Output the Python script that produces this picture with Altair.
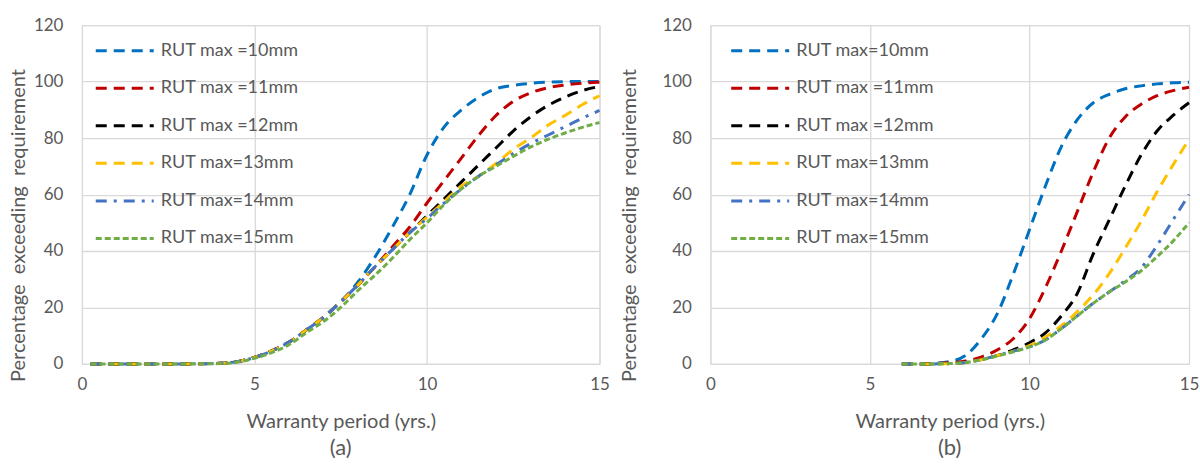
import altair as alt
import pandas as pd

# ---------------- data ----------------
series_a = ["RUT max =10mm", "RUT max =11mm", "RUT max =12mm",
            "RUT max=13mm", "RUT max=14mm", "RUT max=15mm"]
series_b = ["RUT max=10mm", "RUT max =11mm", "RUT max =12mm",
            "RUT max=13mm", "RUT max=14mm", "RUT max=15mm"]

years_a = [0.25, 1, 2, 3, 4, 4.5, 5, 5.5, 6, 6.5, 7, 7.5, 8, 8.5, 9, 9.5, 10,
           10.5, 11, 11.5, 12, 12.5, 13, 13.5, 14, 14.5, 15]
a_10 = [0, 0, 0, 0, 0.2, 0.8, 2.3, 4.6, 7.7, 12, 16.5, 22, 29, 38, 48.5, 60, 74,
        84, 90, 94.5, 97.5, 98.7, 99.4, 99.8, 100, 100, 100]
a_11 = [0, 0, 0, 0, 0.2, 0.8, 2.3, 4.6, 7.7, 12, 16.5, 22, 28, 34.5, 41.5, 48.5, 57,
        65, 73, 81, 88, 93, 96, 97.8, 98.8, 99.4, 99.8]
a_12 = [0, 0, 0, 0, 0.2, 0.8, 2.3, 4.6, 7.7, 12, 16.5, 22, 28, 34.5, 40.5, 46.5, 52.5,
        58.5, 64.5, 70.5, 76.5, 82.5, 87.5, 91.5, 94.5, 96.8, 98.3]
a_13 = [0, 0, 0, 0, 0.2, 0.8, 2.3, 4.6, 7.7, 12, 16.5, 22, 28, 34.5, 40.5, 46.5, 52,
        57.5, 63, 66.5, 71, 76, 80, 84.5, 88, 91.8, 95]
a_14 = [0, 0, 0, 0, 0.2, 0.8, 2.3, 4.6, 7.7, 12, 16.5, 22, 28, 34.5, 40.5, 46.5, 51.5,
        57, 62, 66.5, 70.5, 74.5, 78, 81, 84, 87, 89.8]
a_15 = [0, 0, 0, 0, 0.1, 0.6, 2, 4, 6.8, 11, 15, 20, 26, 31.5, 37.5, 44, 50,
        56.5, 62, 66.5, 70, 73.5, 76.8, 79.5, 81.8, 83.8, 85.5]

years_b = [6, 6.5, 7, 7.5, 8, 8.5, 9, 9.5, 10, 10.5, 11, 11.5, 12, 12.5, 13, 13.5,
           14, 14.5, 15]
b_10 = [0, 0, 0.2, 0.8, 3, 9, 18, 32, 47.5, 63, 77, 86.5, 92.5, 95.5, 97.5, 98.5,
        99.2, 99.6, 99.8]
b_11 = [0, 0, 0.1, 0.4, 1, 2.5, 5, 9, 16, 27, 40, 54, 68, 80, 87.5, 92, 95, 96.8, 98]
b_12 = [0, 0, 0, 0.2, 0.6, 1.5, 3, 5, 7.5, 11, 17, 25, 39, 51, 63, 74, 82.5, 88, 92.5]
b_13 = [0, 0, 0, 0.1, 0.5, 1.5, 3, 4.5, 6.5, 9.5, 13.5, 18.5, 24.5, 32, 41, 50.5,
        61, 70.5, 79.5]
b_14 = [0, 0, 0, 0.1, 0.5, 1.5, 3, 4.5, 6, 8.5, 12.5, 17, 21.5, 25.5, 29.5, 34,
        42, 51, 60]
b_15 = [0, 0, 0, 0.1, 0.5, 1.5, 2.8, 4.3, 6, 8.5, 12.5, 17, 21.5, 25.5, 29, 33,
        38, 43.5, 50]

x_ticks = [0, 5, 10, 15]
y_ticks = [0, 20, 40, 60, 80, 100, 120]

# ---------------- styles ----------------
colors = ["#0070C0", "#C00000", "#000000", "#FFC000", "#4472C4", "#70AD47"]
dashes = [[11, 7], [11, 7], [11, 7], [11, 7], [11, 7, 3, 7], [6, 3]]
FONT = "Lato"
TXT = "#595959"
GRID = "#d9d9d9"


def long_df(years, names, cols):
    rows = []
    for name, vals in zip(names, cols):
        for xv, yv in zip(years, vals):
            rows.append({"x": xv, "y": yv, "series": name})
    return pd.DataFrame(rows)


df_a = long_df(years_a, series_a, [a_10, a_11, a_12, a_13, a_14, a_15])
df_b = long_df(years_b, series_b, [b_10, b_11, b_12, b_13, b_14, b_15])


def panel(df, names, caption, width, title_x, legend_x):
    leg = alt.Legend(
        orient="none", legendX=legend_x, legendY=14, title=None,
        symbolType="M-1,0H5", symbolSize=374, symbolStrokeWidth=3,
        labelFont=FONT, labelFontSize=18, labelColor=TXT,
        labelOffset=44, rowPadding=16.6, padding=0, symbolOffset=0,
        labelLimit=300,
    )
    return alt.Chart(df).mark_line(strokeWidth=3, interpolate="monotone").encode(
        x=alt.X("x:Q", scale=alt.Scale(domain=[0, 15], nice=False),
                axis=alt.Axis(values=x_ticks, title="Warranty period (yrs.)",
                              titleY=58, titleBaseline="middle",
                              labelPadding=13, labelFlush=False)),
        y=alt.Y("y:Q", scale=alt.Scale(domain=[0, 120], nice=False),
                axis=alt.Axis(values=y_ticks,
                              title="Percentage\u00a0\u00a0exceeding\u00a0\u00a0requirement",
                              titleX=title_x, titleY=200, titleAngle=270,
                              titleBaseline="middle", titleAlign="center",
                              labelPadding=19, domain=False)),
        color=alt.Color("series:N", scale=alt.Scale(domain=names, range=colors),
                        legend=leg),
        strokeDash=alt.StrokeDash("series:N", scale=alt.Scale(domain=names, range=dashes),
                                  legend=leg),
    ).properties(
        width=width, height=339,
        title=alt.TitleParams(caption, orient="bottom", font=FONT, fontSize=22,
                              fontWeight="normal", color=TXT, offset=6),
    )


pa = panel(df_a, series_a, "(a)", 518, -63, 12)
pb = panel(df_b, series_b, "(b)", 479, -81, 19)

chart = alt.hconcat(pa, pb, spacing=8).resolve_scale(
    color="independent", strokeDash="independent"
).properties(
    padding={"left": 8, "top": 15, "right": 0, "bottom": 0}
).configure_view(
    stroke=GRID, strokeWidth=1
).configure_axis(
    labelFont=FONT, labelFontSize=17, labelColor=TXT,
    titleFont=FONT, titleFontSize=20, titleColor=TXT, titleFontWeight="normal",
    gridColor=GRID, gridWidth=1.3, ticks=False,
    domainColor=GRID, domainWidth=1.3,
)

chart.save("out.html", embed_options={"renderer": "svg", "actions": False})
